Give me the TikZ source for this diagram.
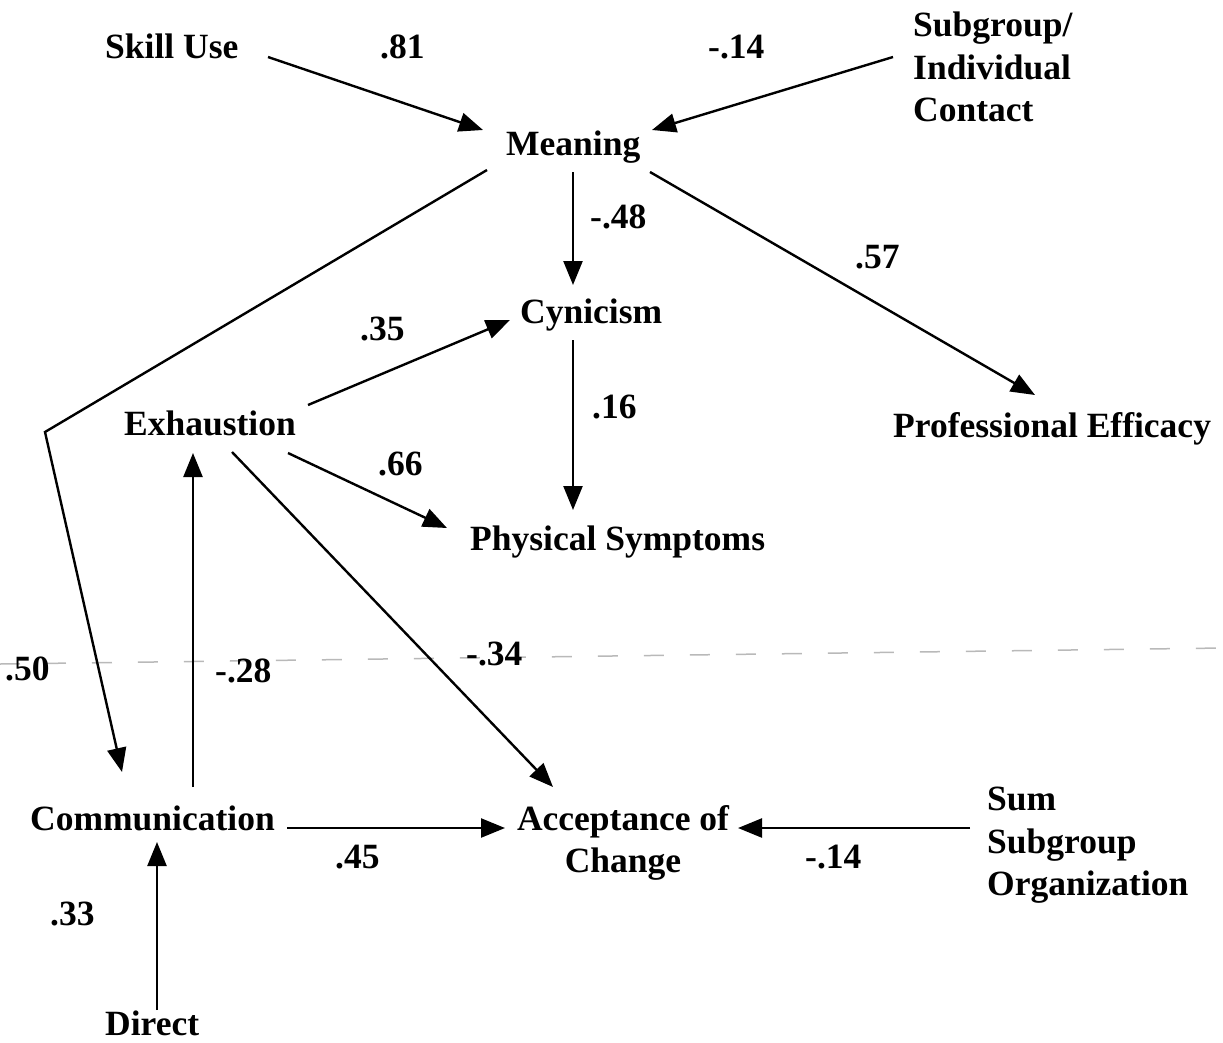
\documentclass[tikz,border=0pt]{standalone}
\usepackage{fontspec}
\setmainfont{Liberation Serif}
\usetikzlibrary{arrows.meta}
\begin{document}
\begin{tikzpicture}[x=1pt,y=-1pt,
  lbl/.style={inner sep=0pt,anchor=base west,font=\fontsize{35.5}{42.5}\selectfont\bfseries},
  arr/.style={line width=2.4pt,-{Triangle[length=24pt,width=19pt]}},
  ln/.style={line width=2.4pt}]
\useasboundingbox (0,0) rectangle (1223,1042);
% dashed separator
\draw[gray!55,line width=1.5pt,dash pattern=on 20pt off 26pt] (0,664) -- (1223,648);
% variables
\node[lbl] (skill) at (105,58) {Skill Use};
\node[lbl,anchor=north west,align=left] (subgroup) at (913,12) {Subgroup/\\Individual\\Contact};
\node[lbl] (meaning) at (506,155) {Meaning};
\node[lbl] (cynicism) at (520,323) {Cynicism};
\node[lbl] (exhaustion) at (124,435) {Exhaustion};
\node[lbl] (profeff) at (893,437) {Professional Efficacy};
\node[lbl] (physical) at (470,550) {Physical Symptoms};
\node[lbl] (communication) at (30,830) {Communication};
\node[lbl,anchor=north,align=center] (accept) at (623,805) {Acceptance of\\Change};
\node[lbl,anchor=north west,align=left] (sum) at (987,787) {Sum\\Subgroup\\Organization};
\node[lbl] (direct) at (105,1035) {Direct};
% coefficients
\node[lbl] (c81) at (380,58) {.81};
\node[lbl] (c14a) at (708,58) {-.14};
\node[lbl] (c48) at (590,228) {-.48};
\node[lbl] (c57) at (855,268) {.57};
\node[lbl] (c35) at (360,340) {.35};
\node[lbl] (c16) at (592,418) {.16};
\node[lbl] (c66) at (378,475) {.66};
\node[lbl] (c50) at (5,680) {.50};
\node[lbl] (c28) at (215,682) {-.28};
\node[lbl] (c34) at (466,665) {-.34};
\node[lbl] (c45) at (335,868) {.45};
\node[lbl] (c14b) at (805,868) {-.14};
\node[lbl] (c33) at (50,925) {.33};
% paths
\coordinate (bend) at (45,432);
\draw[arr] ([shift={(163,-1)}]skill.base west) -- ([shift={(-23,-25)}]meaning.base west);
\draw[arr] ([shift={(-20,45)}]subgroup.north west) -- ([shift={(146,-25)}]meaning.base west);
\draw[arr] ([shift={(67,17)}]meaning.base west) -- ([shift={(53,-38)}]cynicism.base west);
\draw[arr] ([shift={(144,17)}]meaning.base west) -- ([shift={(142,-42)}]profeff.base west);
\draw[arr] ([shift={(-19,15)}]meaning.base west) -- (bend) -- ([shift={(92,-58)}]communication.base west);
\draw[arr] ([shift={(184,-30)}]exhaustion.base west) -- ([shift={(-10,-3)}]cynicism.base west);
\draw[arr] ([shift={(53,17)}]cynicism.base west) -- ([shift={(103,-40)}]physical.base west);
\draw[arr] ([shift={(164,18)}]exhaustion.base west) -- ([shift={(-23,-22)}]physical.base west);
\draw[arr] ([shift={(108,17)}]exhaustion.base west) -- ([shift={(-70,-18)}]accept.north);
\draw[arr] ([shift={(163,-43)}]communication.base west) -- ([shift={(69,18)}]exhaustion.base west);
\draw[arr] ([shift={(257,-2)}]communication.base west) -- ([shift={(-118,23)}]accept.north);
\draw[arr] ([shift={(-17,41)}]sum.north west) -- ([shift={(115,23)}]accept.north);
\draw[arr] ([shift={(52,-25)}]direct.base west) -- ([shift={(127,12)}]communication.base west);
\end{tikzpicture}
\end{document}
